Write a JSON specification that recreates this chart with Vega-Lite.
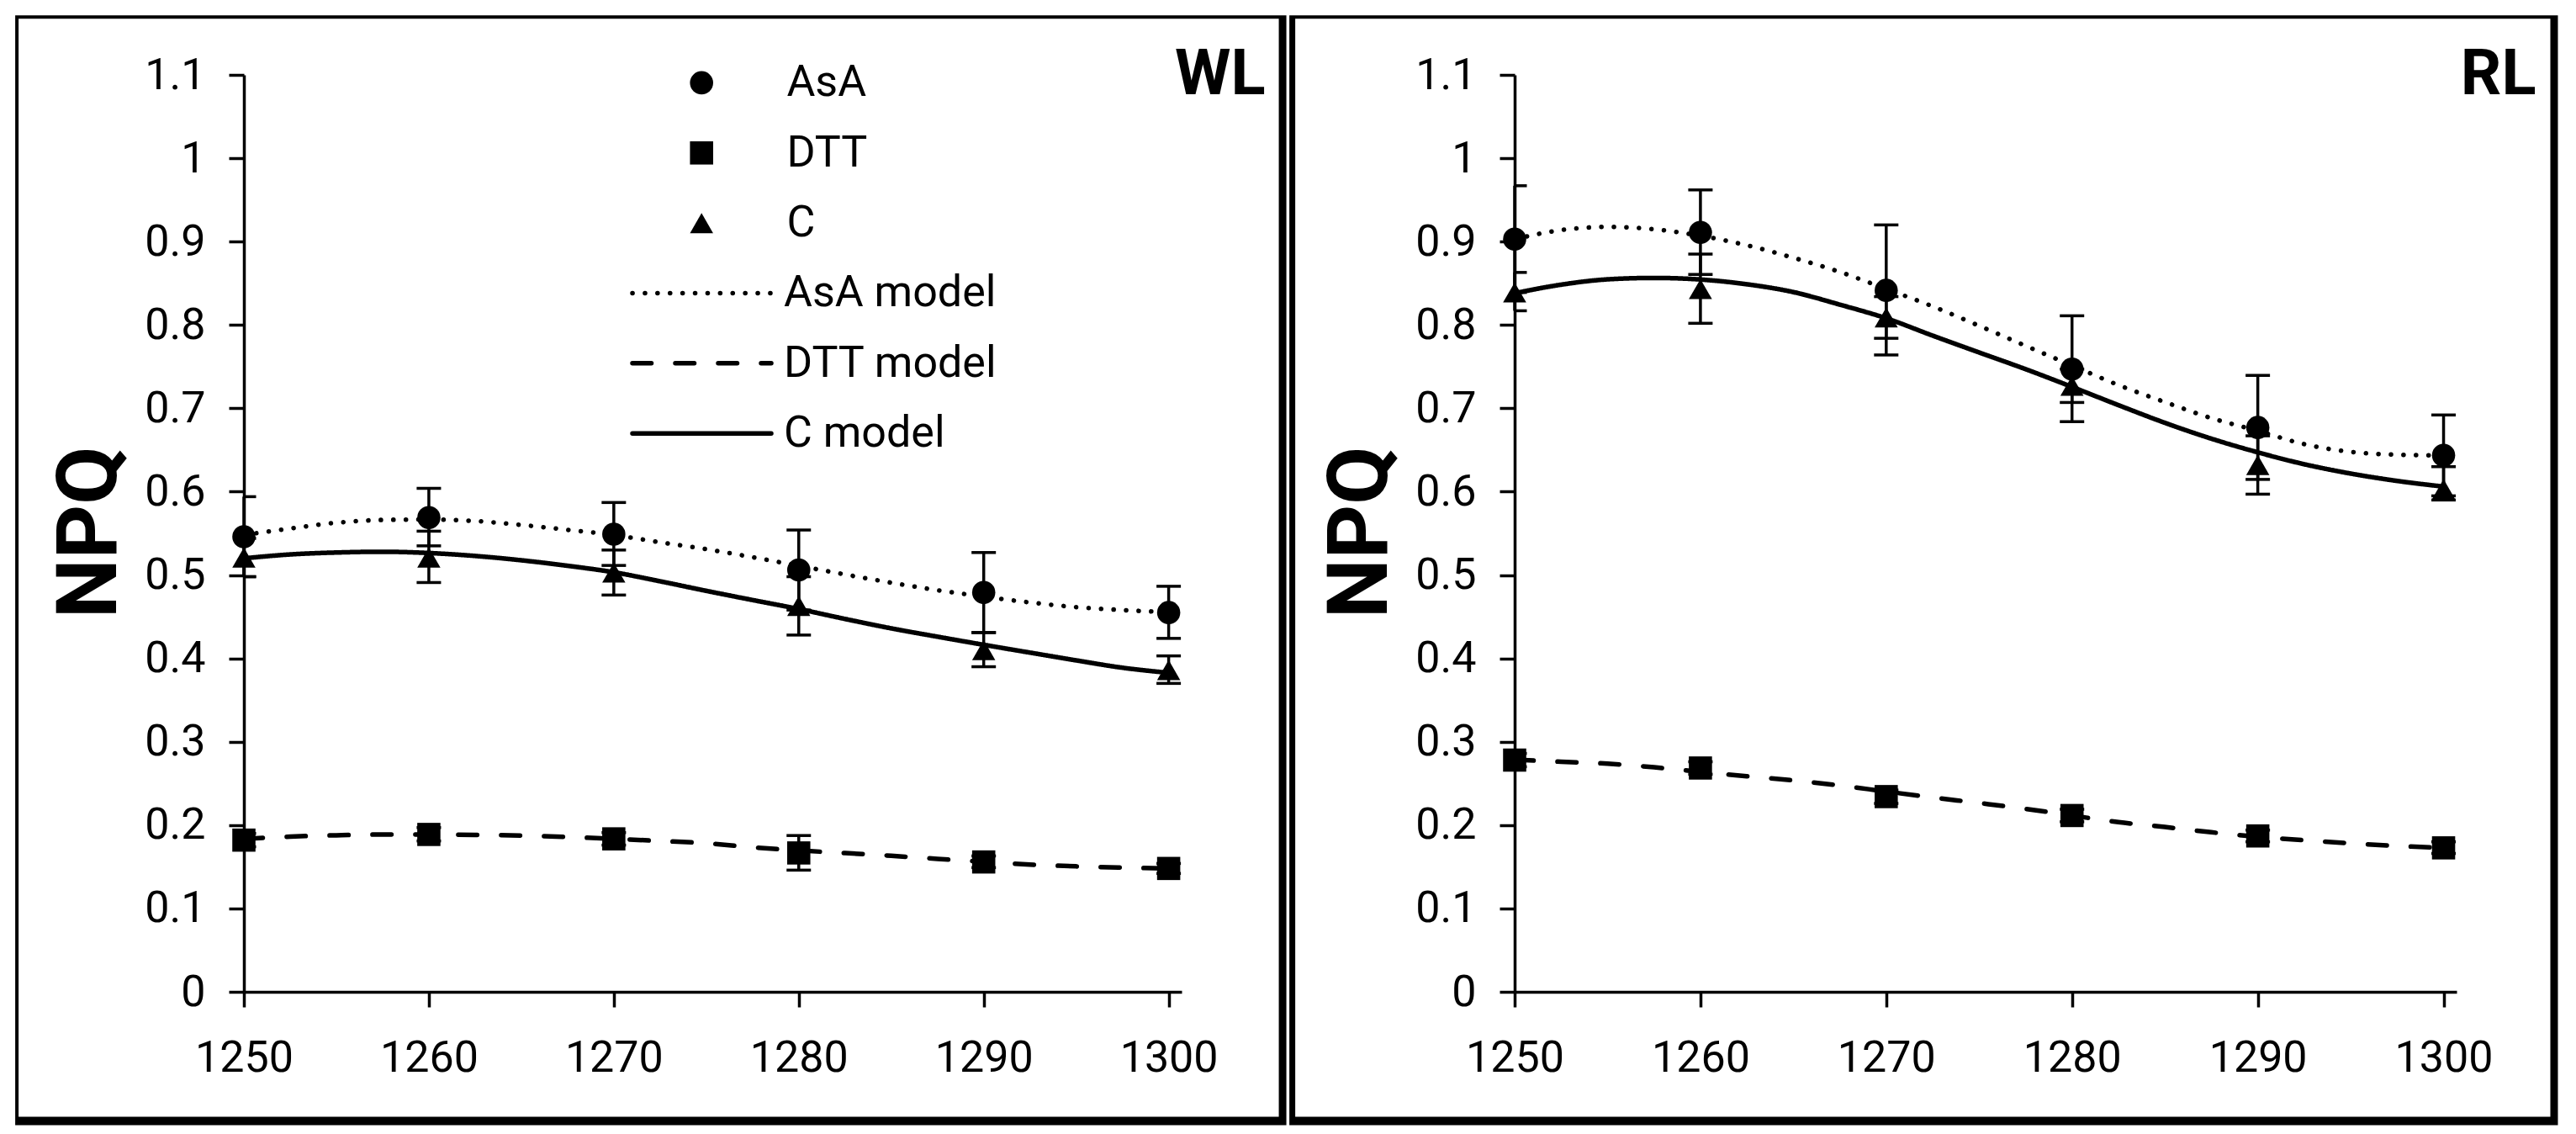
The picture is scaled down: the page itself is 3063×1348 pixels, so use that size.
{
  "$schema": "https://vega.github.io/schema/vega-lite/v6.json",
  "background": "white",
  "padding": {"left": 18, "top": 18, "right": 21, "bottom": 11},
  "spacing": 3,
  "config": {
    "font": "Roboto",
    "view": {"stroke": null},
    "legend": {"padding": 0, "labelFont": "Roboto", "labelFontSize": 52, "labelColor": "black", "rowPadding": 31.4, "labelLimit": 0}
  },
  "datasets": {
    "wl_points": [
      {"series": "AsA", "x": 1250, "y": 0.546, "lo": 0.498, "hi": 0.594},
      {"series": "AsA", "x": 1260, "y": 0.569, "lo": 0.535, "hi": 0.604},
      {"series": "AsA", "x": 1270, "y": 0.549, "lo": 0.5115, "hi": 0.587},
      {"series": "AsA", "x": 1280, "y": 0.506, "lo": 0.458, "hi": 0.554},
      {"series": "AsA", "x": 1290, "y": 0.479, "lo": 0.431, "hi": 0.527},
      {"series": "AsA", "x": 1300, "y": 0.455, "lo": 0.424, "hi": 0.4865},
      {"series": "DTT", "x": 1250, "y": 0.182, "lo": 0.174, "hi": 0.19},
      {"series": "DTT", "x": 1260, "y": 0.1888, "lo": 0.181, "hi": 0.197},
      {"series": "DTT", "x": 1270, "y": 0.1835, "lo": 0.176, "hi": 0.191},
      {"series": "DTT", "x": 1280, "y": 0.1666, "lo": 0.146, "hi": 0.1875},
      {"series": "DTT", "x": 1290, "y": 0.1558, "lo": 0.149, "hi": 0.163},
      {"series": "DTT", "x": 1300, "y": 0.148, "lo": 0.142, "hi": 0.154},
      {"series": "C", "x": 1250, "y": 0.521, "lo": 0.498, "hi": 0.544},
      {"series": "C", "x": 1260, "y": 0.521, "lo": 0.491, "hi": 0.5526},
      {"series": "C", "x": 1270, "y": 0.503, "lo": 0.476, "hi": 0.53},
      {"series": "C", "x": 1280, "y": 0.463, "lo": 0.428, "hi": 0.498},
      {"series": "C", "x": 1290, "y": 0.41, "lo": 0.39, "hi": 0.431},
      {"series": "C", "x": 1300, "y": 0.386, "lo": 0.37, "hi": 0.403}
    ],
    "rl_points": [
      {"series": "AsA", "x": 1250, "y": 0.903, "lo": 0.839, "hi": 0.967},
      {"series": "AsA", "x": 1260, "y": 0.911, "lo": 0.8606, "hi": 0.962},
      {"series": "AsA", "x": 1270, "y": 0.8415, "lo": 0.764, "hi": 0.92},
      {"series": "AsA", "x": 1280, "y": 0.747, "lo": 0.684, "hi": 0.811},
      {"series": "AsA", "x": 1290, "y": 0.677, "lo": 0.6147, "hi": 0.7395},
      {"series": "AsA", "x": 1300, "y": 0.6435, "lo": 0.595, "hi": 0.692},
      {"series": "DTT", "x": 1250, "y": 0.278, "lo": 0.27, "hi": 0.286},
      {"series": "DTT", "x": 1260, "y": 0.2685, "lo": 0.261, "hi": 0.276},
      {"series": "DTT", "x": 1270, "y": 0.2342, "lo": 0.226, "hi": 0.242},
      {"series": "DTT", "x": 1280, "y": 0.2115, "lo": 0.204, "hi": 0.219},
      {"series": "DTT", "x": 1290, "y": 0.187, "lo": 0.18, "hi": 0.194},
      {"series": "DTT", "x": 1300, "y": 0.1727, "lo": 0.166, "hi": 0.18},
      {"series": "C", "x": 1250, "y": 0.839, "lo": 0.817, "hi": 0.863},
      {"series": "C", "x": 1260, "y": 0.843, "lo": 0.802, "hi": 0.885},
      {"series": "C", "x": 1270, "y": 0.809, "lo": 0.784, "hi": 0.834},
      {"series": "C", "x": 1280, "y": 0.727, "lo": 0.707, "hi": 0.747},
      {"series": "C", "x": 1290, "y": 0.632, "lo": 0.597, "hi": 0.667},
      {"series": "C", "x": 1300, "y": 0.603, "lo": 0.59, "hi": 0.63}
    ],
    "wl_models": [
      {"model": "AsA model", "x": 1250, "y": 0.548}, {"model": "AsA model", "x": 1252.5, "y": 0.5558}, {"model": "AsA model", "x": 1255, "y": 0.5627}, {"model": "AsA model", "x": 1257.5, "y": 0.5661}, {"model": "AsA model", "x": 1260, "y": 0.5666}, {"model": "AsA model", "x": 1262.5, "y": 0.5648}, {"model": "AsA model", "x": 1265, "y": 0.5601}, {"model": "AsA model", "x": 1267.5, "y": 0.5542}, {"model": "AsA model", "x": 1270, "y": 0.548}, {"model": "AsA model", "x": 1272.5, "y": 0.5393}, {"model": "AsA model", "x": 1275, "y": 0.531}, {"model": "AsA model", "x": 1277.5, "y": 0.5214}, {"model": "AsA model", "x": 1280, "y": 0.5111}, {"model": "AsA model", "x": 1282.5, "y": 0.5007}, {"model": "AsA model", "x": 1285, "y": 0.4908}, {"model": "AsA model", "x": 1287.5, "y": 0.4818}, {"model": "AsA model", "x": 1290, "y": 0.4741}, {"model": "AsA model", "x": 1292.5, "y": 0.4671}, {"model": "AsA model", "x": 1295, "y": 0.4615}, {"model": "AsA model", "x": 1297.5, "y": 0.458}, {"model": "AsA model", "x": 1300, "y": 0.4555},
      {"model": "DTT model", "x": 1250, "y": 0.1835}, {"model": "DTT model", "x": 1252.5, "y": 0.1862}, {"model": "DTT model", "x": 1255, "y": 0.1878}, {"model": "DTT model", "x": 1257.5, "y": 0.1887}, {"model": "DTT model", "x": 1260, "y": 0.1888}, {"model": "DTT model", "x": 1262.5, "y": 0.1882}, {"model": "DTT model", "x": 1265, "y": 0.1875}, {"model": "DTT model", "x": 1267.5, "y": 0.1858}, {"model": "DTT model", "x": 1270, "y": 0.1835}, {"model": "DTT model", "x": 1272.5, "y": 0.181}, {"model": "DTT model", "x": 1275, "y": 0.1782}, {"model": "DTT model", "x": 1277.5, "y": 0.1733}, {"model": "DTT model", "x": 1280, "y": 0.1696}, {"model": "DTT model", "x": 1282.5, "y": 0.1665}, {"model": "DTT model", "x": 1285, "y": 0.1632}, {"model": "DTT model", "x": 1287.5, "y": 0.1595}, {"model": "DTT model", "x": 1290, "y": 0.156}, {"model": "DTT model", "x": 1292.5, "y": 0.1527}, {"model": "DTT model", "x": 1295, "y": 0.1505}, {"model": "DTT model", "x": 1297.5, "y": 0.149}, {"model": "DTT model", "x": 1300, "y": 0.148},
      {"model": "C model", "x": 1250, "y": 0.52}, {"model": "C model", "x": 1252.5, "y": 0.5247}, {"model": "C model", "x": 1255, "y": 0.527}, {"model": "C model", "x": 1257.5, "y": 0.5279}, {"model": "C model", "x": 1260, "y": 0.5264}, {"model": "C model", "x": 1262.5, "y": 0.5229}, {"model": "C model", "x": 1265, "y": 0.5177}, {"model": "C model", "x": 1267.5, "y": 0.5111}, {"model": "C model", "x": 1270, "y": 0.5033}, {"model": "C model", "x": 1272.5, "y": 0.4925}, {"model": "C model", "x": 1275, "y": 0.481}, {"model": "C model", "x": 1277.5, "y": 0.47}, {"model": "C model", "x": 1280, "y": 0.4592}, {"model": "C model", "x": 1282.5, "y": 0.4473}, {"model": "C model", "x": 1285, "y": 0.436}, {"model": "C model", "x": 1287.5, "y": 0.426}, {"model": "C model", "x": 1290, "y": 0.4163}, {"model": "C model", "x": 1292.5, "y": 0.4069}, {"model": "C model", "x": 1295, "y": 0.3976}, {"model": "C model", "x": 1297.5, "y": 0.3888}, {"model": "C model", "x": 1300, "y": 0.3827}
    ],
    "rl_models": [
      {"model": "AsA model", "x": 1250, "y": 0.903}, {"model": "AsA model", "x": 1252.5, "y": 0.9138}, {"model": "AsA model", "x": 1255, "y": 0.9176}, {"model": "AsA model", "x": 1257.5, "y": 0.9148}, {"model": "AsA model", "x": 1260, "y": 0.907}, {"model": "AsA model", "x": 1262.5, "y": 0.8956}, {"model": "AsA model", "x": 1265, "y": 0.8806}, {"model": "AsA model", "x": 1267.5, "y": 0.8636}, {"model": "AsA model", "x": 1270, "y": 0.8432}, {"model": "AsA model", "x": 1272.5, "y": 0.8223}, {"model": "AsA model", "x": 1275, "y": 0.799}, {"model": "AsA model", "x": 1277.5, "y": 0.775}, {"model": "AsA model", "x": 1280, "y": 0.7514}, {"model": "AsA model", "x": 1282.5, "y": 0.7279}, {"model": "AsA model", "x": 1285, "y": 0.7075}, {"model": "AsA model", "x": 1287.5, "y": 0.6883}, {"model": "AsA model", "x": 1290, "y": 0.673}, {"model": "AsA model", "x": 1292.5, "y": 0.657}, {"model": "AsA model", "x": 1295, "y": 0.6477}, {"model": "AsA model", "x": 1297.5, "y": 0.6444}, {"model": "AsA model", "x": 1300, "y": 0.6435},
      {"model": "DTT model", "x": 1250, "y": 0.2785}, {"model": "DTT model", "x": 1252.5, "y": 0.276}, {"model": "DTT model", "x": 1255, "y": 0.2737}, {"model": "DTT model", "x": 1257.5, "y": 0.2694}, {"model": "DTT model", "x": 1260, "y": 0.2638}, {"model": "DTT model", "x": 1262.5, "y": 0.2586}, {"model": "DTT model", "x": 1265, "y": 0.2536}, {"model": "DTT model", "x": 1267.5, "y": 0.2476}, {"model": "DTT model", "x": 1270, "y": 0.2403}, {"model": "DTT model", "x": 1272.5, "y": 0.2332}, {"model": "DTT model", "x": 1275, "y": 0.2265}, {"model": "DTT model", "x": 1277.5, "y": 0.2195}, {"model": "DTT model", "x": 1280, "y": 0.2115}, {"model": "DTT model", "x": 1282.5, "y": 0.2035}, {"model": "DTT model", "x": 1285, "y": 0.1977}, {"model": "DTT model", "x": 1287.5, "y": 0.1914}, {"model": "DTT model", "x": 1290, "y": 0.186}, {"model": "DTT model", "x": 1292.5, "y": 0.1818}, {"model": "DTT model", "x": 1295, "y": 0.1782}, {"model": "DTT model", "x": 1297.5, "y": 0.175}, {"model": "DTT model", "x": 1300, "y": 0.1727},
      {"model": "C model", "x": 1250, "y": 0.838}, {"model": "C model", "x": 1252.5, "y": 0.8483}, {"model": "C model", "x": 1255, "y": 0.8547}, {"model": "C model", "x": 1257.5, "y": 0.8564}, {"model": "C model", "x": 1260, "y": 0.8545}, {"model": "C model", "x": 1262.5, "y": 0.8488}, {"model": "C model", "x": 1265, "y": 0.8394}, {"model": "C model", "x": 1267.5, "y": 0.8244}, {"model": "C model", "x": 1270, "y": 0.808}, {"model": "C model", "x": 1272.5, "y": 0.7872}, {"model": "C model", "x": 1275, "y": 0.767}, {"model": "C model", "x": 1277.5, "y": 0.747}, {"model": "C model", "x": 1280, "y": 0.7257}, {"model": "C model", "x": 1282.5, "y": 0.7038}, {"model": "C model", "x": 1285, "y": 0.6826}, {"model": "C model", "x": 1287.5, "y": 0.6636}, {"model": "C model", "x": 1290, "y": 0.6472}, {"model": "C model", "x": 1292.5, "y": 0.6329}, {"model": "C model", "x": 1295, "y": 0.6217}, {"model": "C model", "x": 1297.5, "y": 0.6129}, {"model": "C model", "x": 1300, "y": 0.6061}
    ]
  },
  "hconcat": [
    {
      "width": 1115,
      "height": 1090,
      "layer": [
        {
          "data": {"values": [{}]},
          "mark": {"type": "rect", "color": "black"},
          "encoding": {
            "x": {"datum": 1237.636, "type": "quantitative", "scale": {"domain": [1250, 1300.7], "nice": false, "zero": false}},
            "x2": {"datum": 1306.364},
            "y": {"datum": 1.1713, "type": "quantitative", "scale": {"domain": [0, 1.1], "nice": false, "zero": false}},
            "y2": {"datum": -0.1599}
          }
        },
        {
          "data": {"values": [{}]},
          "mark": {"type": "rect", "color": "white"},
          "encoding": {
            "x": {"datum": 1237.818, "type": "quantitative"},
            "x2": {"datum": 1305.955},
            "y": {"datum": 1.1673, "type": "quantitative"},
            "y2": {"datum": -0.1498}
          }
        },
        {
          "data": {"name": "wl_models"},
          "mark": {"type": "line", "color": "black", "strokeWidth": 5.5, "strokeCap": "round", "interpolate": "monotone"},
          "encoding": {
            "x": {"field": "x", "type": "quantitative"},
            "y": {"field": "y", "type": "quantitative"},
            "strokeDash": {
              "field": "model", "type": "nominal",
              "scale": {"domain": ["AsA model", "DTT model", "C model"], "range": [[0.1, 14.8], [22.5, 28.5], [1, 0]]},
              "legend": {"title": null, "orient": "none", "legendX": 518.5, "legendY": 233.4, "symbolType": "M-5,0H5", "symbolSize": 1089, "symbolStrokeWidth": 5.5, "symbolStrokeColor": "black", "labelOffset": 71.5, "encode": {"symbols": {"update": {"strokeCap": {"value": "round"}}}}}
            }
          }
        },
        {
          "data": {"name": "wl_points"},
          "mark": {"type": "rule", "color": "black", "strokeWidth": 3.5},
          "encoding": {"x": {"field": "x", "type": "quantitative"}, "y": {"field": "lo", "type": "quantitative"}, "y2": {"field": "hi"}}
        },
        {
          "data": {"name": "wl_points"},
          "mark": {"type": "tick", "orient": "horizontal", "color": "black", "size": 29, "thickness": 3.5, "clip": true, "opacity": 1},
          "encoding": {"x": {"field": "x", "type": "quantitative"}, "y": {"field": "lo", "type": "quantitative"}}
        },
        {
          "data": {"name": "wl_points"},
          "mark": {"type": "tick", "orient": "horizontal", "color": "black", "size": 29, "thickness": 3.5, "clip": true, "opacity": 1},
          "encoding": {"x": {"field": "x", "type": "quantitative"}, "y": {"field": "hi", "type": "quantitative"}}
        },
        {
          "data": {"name": "wl_points"},
          "mark": {"type": "point", "filled": true, "color": "black", "size": 760, "opacity": 1},
          "encoding": {
            "x": {"field": "x", "type": "quantitative"},
            "y": {"field": "y", "type": "quantitative"},
            "shape": {
              "field": "series", "type": "nominal",
              "scale": {"domain": ["AsA", "DTT", "C"], "range": ["circle", "square", "triangle-up"]},
              "legend": {"title": null, "orient": "none", "legendX": 518.2, "legendY": -16.6, "symbolSize": 760, "symbolFillColor": "black", "symbolStrokeWidth": 0, "labelOffset": 75.2}
            }
          }
        },
        {
          "data": {"values": [{}]},
          "mark": {"type": "text", "text": "WL", "align": "right", "baseline": "alphabetic", "fontSize": 76, "fontWeight": "bold", "color": "black", "font": "Roboto"},
          "encoding": {
            "x": {"datum": 1305.23, "type": "quantitative"},
            "y": {"datum": 1.0763, "type": "quantitative"}
          }
        },
        {
          "data": {"name": "wl_points"},
          "mark": {"type": "point", "opacity": 0},
          "encoding": {
            "x": {"field": "x", "type": "quantitative", "scale": {"domain": [1250, 1300.7], "nice": false, "zero": false},
                  "axis": {"values": [1250, 1260, 1270, 1280, 1290, 1300], "format": "d", "title": null, "zindex": 5, "grid": false, "labelFont": "Roboto", "labelFontSize": 52, "labelColor": "black", "tickSize": 18, "tickWidth": 3.5, "tickColor": "black", "domainColor": "black", "domainWidth": 3.5, "labelFlush": false, "labelOverlap": false, "labelPadding": 35}},
            "y": {"field": "y", "type": "quantitative", "scale": {"domain": [0, 1.1], "nice": false, "zero": false},
                  "axis": {"values": [0, 0.1, 0.2, 0.3, 0.4, 0.5, 0.6, 0.7, 0.8, 0.9, 1, 1.1], "format": "~g", "title": "NPQ", "zindex": 5, "grid": false, "labelFont": "Roboto", "labelFontSize": 52, "labelColor": "black", "tickSize": 18, "tickWidth": 3.5, "tickColor": "black", "domainColor": "black", "domainWidth": 3.5, "labelFlush": false, "labelOverlap": false, "labelPadding": 28, "titleFont": "Roboto", "titleFontSize": 100, "titleFontWeight": "bold", "titleColor": "black", "titleAngle": -90, "titleX": -152.5, "titleY": 543.4, "titleAlign": "center", "titleBaseline": "alphabetic"}}
          }
        }
      ]
    },
    {
      "width": 1120,
      "height": 1090,
      "layer": [
        {
          "data": {"values": [{}]},
          "mark": {"type": "rect", "color": "black"},
          "encoding": {
            "x": {"datum": 1237.873, "type": "quantitative", "scale": {"domain": [1250, 1300.7], "nice": false, "zero": false}},
            "x2": {"datum": 1306.154},
            "y": {"datum": 1.1713, "type": "quantitative", "scale": {"domain": [0, 1.1], "nice": false, "zero": false}},
            "y2": {"datum": -0.1599}
          }
        },
        {
          "data": {"values": [{}]},
          "mark": {"type": "rect", "color": "white"},
          "encoding": {
            "x": {"datum": 1238.19, "type": "quantitative"},
            "x2": {"datum": 1305.747},
            "y": {"datum": 1.1673, "type": "quantitative"},
            "y2": {"datum": -0.1498}
          }
        },
        {
          "data": {"name": "rl_models"},
          "mark": {"type": "line", "color": "black", "strokeWidth": 5.5, "strokeCap": "round", "interpolate": "monotone"},
          "encoding": {
            "x": {"field": "x", "type": "quantitative"},
            "y": {"field": "y", "type": "quantitative"},
            "strokeDash": {
              "field": "model", "type": "nominal",
              "scale": {"domain": ["AsA model", "DTT model", "C model"], "range": [[0.1, 14.8], [22.5, 28.5], [1, 0]]},
              "legend": null
            }
          }
        },
        {
          "data": {"name": "rl_points"},
          "mark": {"type": "rule", "color": "black", "strokeWidth": 3.5},
          "encoding": {"x": {"field": "x", "type": "quantitative"}, "y": {"field": "lo", "type": "quantitative"}, "y2": {"field": "hi"}}
        },
        {
          "data": {"name": "rl_points"},
          "mark": {"type": "tick", "orient": "horizontal", "color": "black", "size": 29, "thickness": 3.5, "clip": true, "opacity": 1},
          "encoding": {"x": {"field": "x", "type": "quantitative"}, "y": {"field": "lo", "type": "quantitative"}}
        },
        {
          "data": {"name": "rl_points"},
          "mark": {"type": "tick", "orient": "horizontal", "color": "black", "size": 29, "thickness": 3.5, "clip": true, "opacity": 1},
          "encoding": {"x": {"field": "x", "type": "quantitative"}, "y": {"field": "hi", "type": "quantitative"}}
        },
        {
          "data": {"name": "rl_points"},
          "mark": {"type": "point", "filled": true, "color": "black", "size": 760, "opacity": 1},
          "encoding": {
            "x": {"field": "x", "type": "quantitative"},
            "y": {"field": "y", "type": "quantitative"},
            "shape": {
              "field": "series", "type": "nominal",
              "scale": {"domain": ["AsA", "DTT", "C"], "range": ["circle", "square", "triangle-up"]},
              "legend": null
            }
          }
        },
        {
          "data": {"values": [{}]},
          "mark": {"type": "text", "text": "RL", "align": "right", "baseline": "alphabetic", "fontSize": 76, "fontWeight": "bold", "color": "black", "font": "Roboto"},
          "encoding": {
            "x": {"datum": 1304.98, "type": "quantitative"},
            "y": {"datum": 1.0763, "type": "quantitative"}
          }
        },
        {
          "data": {"name": "rl_points"},
          "mark": {"type": "point", "opacity": 0},
          "encoding": {
            "x": {"field": "x", "type": "quantitative", "scale": {"domain": [1250, 1300.7], "nice": false, "zero": false},
                  "axis": {"values": [1250, 1260, 1270, 1280, 1290, 1300], "format": "d", "title": null, "zindex": 5, "grid": false, "labelFont": "Roboto", "labelFontSize": 52, "labelColor": "black", "tickSize": 18, "tickWidth": 3.5, "tickColor": "black", "domainColor": "black", "domainWidth": 3.5, "labelFlush": false, "labelOverlap": false, "labelPadding": 35}},
            "y": {"field": "y", "type": "quantitative", "scale": {"domain": [0, 1.1], "nice": false, "zero": false},
                  "axis": {"values": [0, 0.1, 0.2, 0.3, 0.4, 0.5, 0.6, 0.7, 0.8, 0.9, 1, 1.1], "format": "~g", "title": "NPQ", "zindex": 5, "grid": false, "labelFont": "Roboto", "labelFontSize": 52, "labelColor": "black", "tickSize": 18, "tickWidth": 3.5, "tickColor": "black", "domainColor": "black", "domainWidth": 3.5, "labelFlush": false, "labelOverlap": false, "labelPadding": 28, "titleFont": "Roboto", "titleFontSize": 100, "titleFontWeight": "bold", "titleColor": "black", "titleAngle": -90, "titleX": -152.5, "titleY": 543.4, "titleAlign": "center", "titleBaseline": "alphabetic"}}
          }
        }
      ]
    }
  ]
}
